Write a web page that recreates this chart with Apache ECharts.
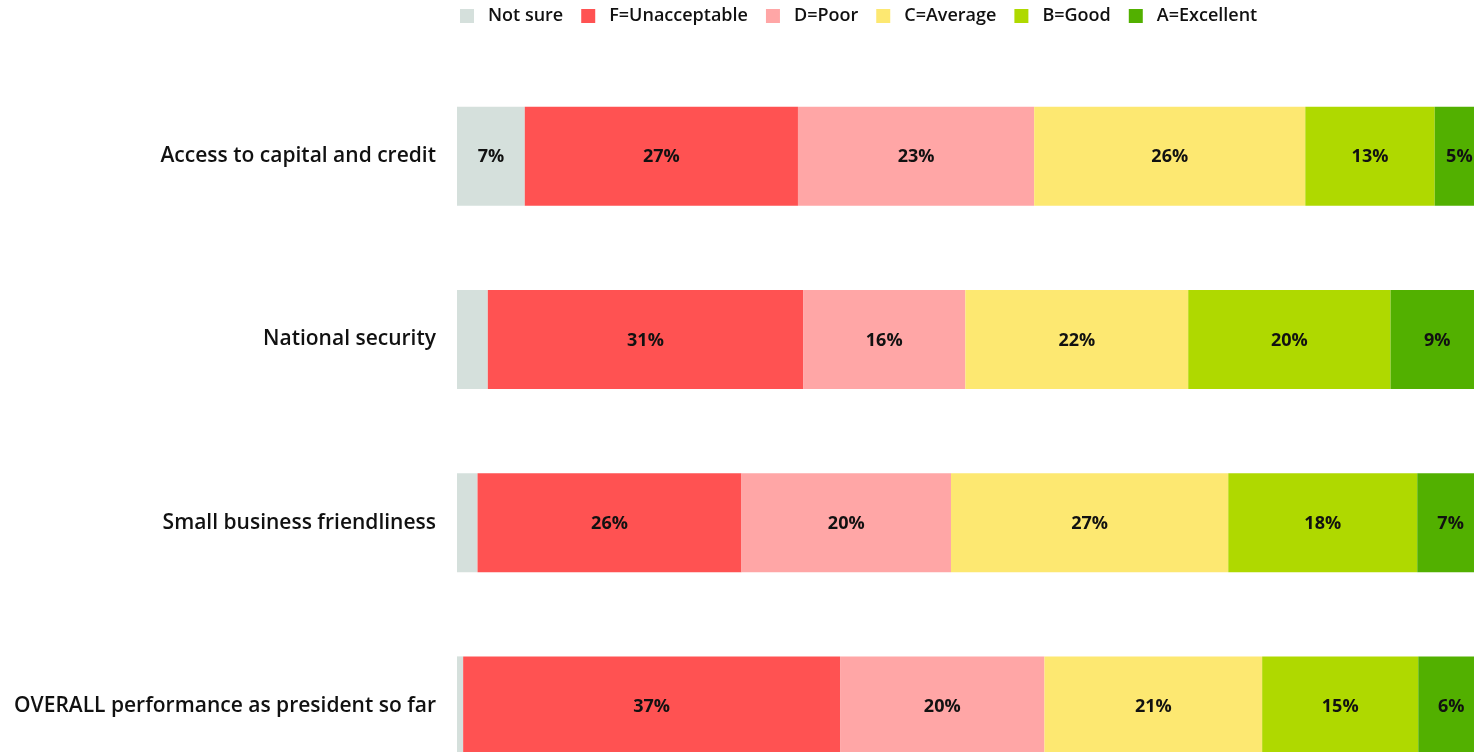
<!DOCTYPE html>
<html>
<head>
<meta charset="utf-8">
<script src="https://cdn.jsdelivr.net/npm/echarts@6/dist/echarts.min.js"></script>
<style>
  html, body { margin: 0; padding: 0; background: #fff; }
  #chart { width: 1474px; height: 752px; }
</style>
</head>
<body>
<div id="chart"></div>
<script>
// categories, top to bottom
const categories = [
  'Access to capital and credit',
  'National security',
  'Small business friendliness',
  'OVERALL performance as president so far'
]

// share of respondents per grade (%), one value per category
const notSure = [6.6, 3.0, 2.0, 0.6]
const gradeF = [26.6, 30.7, 25.7, 36.7]
const gradeD = [23.0, 15.8, 20.4, 19.9]
const gradeC = [26.4, 21.7, 27.0, 21.2]
const gradeB = [12.6, 19.7, 18.4, 15.2]
const gradeA = [4.8, 9.1, 6.5, 6.4]

const seriesNames = ['Not sure', 'F=Unacceptable', 'D=Poor', 'C=Average', 'B=Good', 'A=Excellent']
const seriesData = [notSure, gradeF, gradeD, gradeC, gradeB, gradeA]
const colors = ['#d5e0dc', '#ff5252', '#ffa6a6', '#fde871', '#afd900', '#52b000']

const chart = echarts.init(document.getElementById('chart'))

const option = {
  animation: false,
  color: colors,
  legend: {
    top: 2,
    left: 455,
    itemWidth: 14,
    itemHeight: 14,
    itemGap: 18,
    icon: 'rect',
    textStyle: {
      fontFamily: 'Open Sans',
      fontWeight: 600,
      fontSize: 18,
      color: '#111',
      padding: [0, 0, 0, 9]
    },
    data: seriesNames
  },
  grid: {
    left: 457,
    top: 64.5,
    width: 1027,
    height: 733,
    outerBoundsMode: 'none'
  },
  xAxis: {
    type: 'value',
    min: 0,
    max: 100,
    show: false
  },
  yAxis: {
    type: 'category',
    inverse: true,
    data: categories,
    axisLine: { show: false },
    axisTick: { show: false },
    axisLabel: {
      margin: 21,
      padding: [6, 0, 0, 0],
      fontFamily: 'Open Sans',
      fontWeight: 600,
      fontSize: 21,
      color: '#111'
    }
  },
  series: seriesNames.map((name, i) => ({
    name: name,
    type: 'bar',
    stack: 'total',
    barWidth: 99,
    clip: false,
    data: seriesData[i],
    label: {
      show: true,
      position: 'inside',
      offset: [0, 1],
      fontFamily: 'Open Sans',
      fontWeight: 700,
      fontSize: 18,
      color: '#111',
      formatter: p => p.value >= 4 ? Math.round(p.value) + '%' : ''
    }
  }))
}

chart.setOption(option)
</script>
</body>
</html>
